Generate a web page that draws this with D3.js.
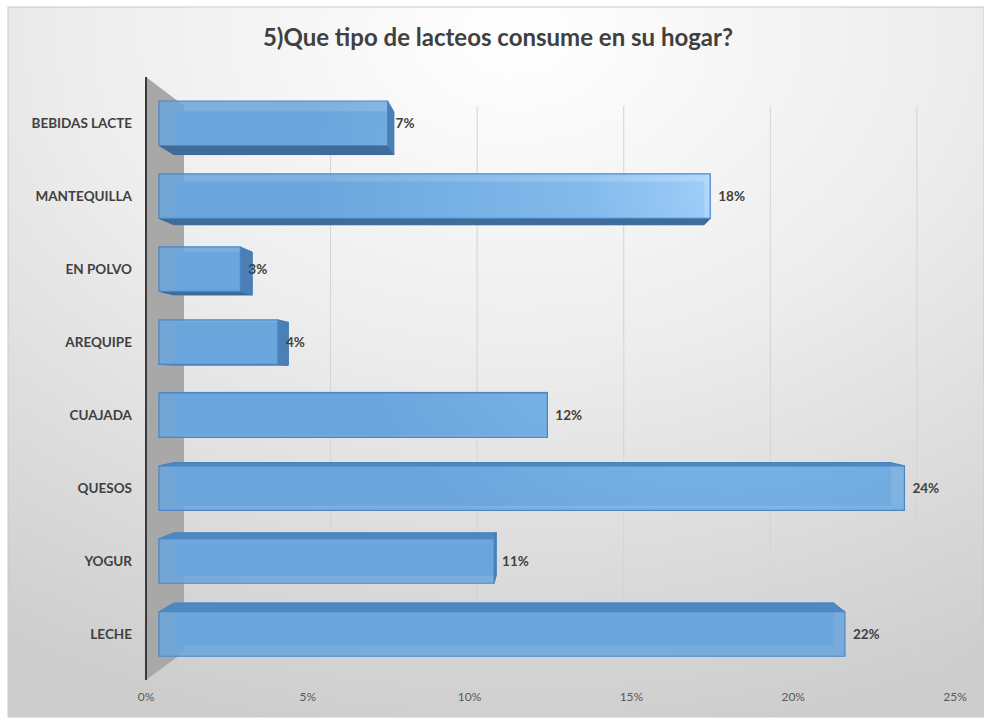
<!DOCTYPE html>
<html>
<head>
<meta charset="utf-8">
<script src="https://cdn.jsdelivr.net/npm/d3@7"></script>
<style>
  html, body { margin: 0; padding: 0; background: #ffffff; }
  svg { display: block; }
</style>
</head>
<body>
<svg id="chart" width="984" height="719"></svg>
<script>
// Survey answers: share of households consuming each dairy product
const categories = ["LECHE", "YOGUR", "QUESOS", "CUAJADA", "AREQUIPE", "EN POLVO", "MANTEQUILLA", "BEBIDAS LACTE"];
const shares = [0.219, 0.107, 0.238, 0.124, 0.038, 0.026, 0.176, 0.073];
const tickValues = [0, 0.05, 0.10, 0.15, 0.20, 0.25];
const chartTitle = "5)Que tipo de lacteos consume en su hogar?";

const W = 984, H = 719;
const svg = d3.select("#chart");
const defs = svg.append("defs");

// ---- background panel ----
const bg = defs.append("radialGradient").attr("id", "bgGrad")
  .attr("cx", "52%").attr("cy", "4%").attr("r", "100%").attr("fx", "52%").attr("fy", "4%");
bg.append("stop").attr("offset", "0").attr("stop-color", "#ffffff");
bg.append("stop").attr("offset", "0.45").attr("stop-color", "#ededed");
bg.append("stop").attr("offset", "1").attr("stop-color", "#cdcdcd");

svg.append("rect").attr("x", 8).attr("y", 7).attr("width", W - 8).attr("height", H - 9)
  .attr("fill", "url(#bgGrad)").attr("stroke", "#c9c9c9").attr("stroke-width", 1);

// ---- scales (front plane) ----
const x = d3.scaleLinear().domain([0, 0.25]).range([146, 955]);
const y = d3.scaleBand().domain(categories.slice().reverse()).range([77, 680])
  .paddingInner(0.39).paddingOuter(0.195);

// ---- simple one-point perspective ----
const vp = { x: 550, y: 382 };
const depth = { front: 1, back: 0.906, barFront: 0.968, barBack: 0.931 };
const proj = (px, py, s) => [vp.x + (px - vp.x) * s, vp.y + (py - vp.y) * s];
const poly = pts => "M" + pts.map(p => p.join(",")).join("L") + "Z";

const plotTop = y.range()[0], plotBottom = y.range()[1];

// ---- side wall ----
svg.append("path")
  .attr("d", poly([
    proj(x(0), plotTop, depth.front), proj(x(0), plotTop, depth.back),
    proj(x(0), plotBottom, depth.back), proj(x(0), plotBottom, depth.front)
  ]))
  .attr("fill", "#a8a8a8");

// ---- gridlines on the back wall and floor ----
const grid = svg.append("g").attr("fill", "none").attr("stroke", "#d4d4d4").attr("stroke-width", 1);
tickValues.filter(t => t > 0).forEach(t => {
  const a = proj(x(t), plotTop, depth.back);
  const b = proj(x(t), plotBottom, depth.back);
  const c = proj(x(t), plotBottom, depth.front);
  grid.append("path").attr("d", "M" + a + "L" + b + "L" + c);
});

// wall edge line
svg.append("line")
  .attr("x1", x(0)).attr("x2", x(0)).attr("y1", plotTop).attr("y2", plotBottom)
  .attr("stroke", "#3a3a3a").attr("stroke-width", 2);

// ---- bars ----
const frontGrad = defs.append("radialGradient").attr("id", "frontGrad")
  .attr("gradientUnits", "userSpaceOnUse").attr("cx", 730).attr("cy", 185).attr("r", 420);
frontGrad.append("stop").attr("offset", "0").attr("stop-color", "#acd7ff");
frontGrad.append("stop").attr("offset", "0.35").attr("stop-color", "#86bdee");
frontGrad.append("stop").attr("offset", "0.75").attr("stop-color", "#74aee2");
frontGrad.append("stop").attr("offset", "1").attr("stop-color", "#6aa5dc");

const bars = svg.append("g");
categories.forEach((cat, i) => {
  const v = shares[i];
  const x0 = x(0), x1 = x(v);
  const y0 = y(cat), y1 = y0 + y.bandwidth();
  const F = depth.barFront, B = depth.barBack;
  const g = bars.append("g");

  // back face
  g.append("path")
    .attr("d", poly([proj(x0, y0, B), proj(x1, y0, B), proj(x1, y1, B), proj(x0, y1, B)]))
    .attr("fill", "#6ea8de").attr("stroke", "#8dbbe8").attr("stroke-width", 1);

  // top face (below the horizon) or bottom face (above it)
  if (y0 > vp.y) {
    g.append("path")
      .attr("d", poly([proj(x0, y0, F), proj(x1, y0, F), proj(x1, y0, B), proj(x0, y0, B)]))
      .attr("fill", "#4f87c1").attr("stroke", "#4a81bb").attr("stroke-width", 1);
  }
  if (y1 < vp.y) {
    g.append("path")
      .attr("d", poly([proj(x0, y1, F), proj(x1, y1, F), proj(x1, y1, B), proj(x0, y1, B)]))
      .attr("fill", "#3f6c99").attr("stroke", "#3d6995").attr("stroke-width", 1);
  }
  // end face when it faces the viewer
  if (x1 < vp.x) {
    g.append("path")
      .attr("d", poly([proj(x1, y0, F), proj(x1, y1, F), proj(x1, y1, B), proj(x1, y0, B)]))
      .attr("fill", "#4b80b7").attr("stroke", "#477cb3").attr("stroke-width", 1);
  }
  // front face
  g.append("path")
    .attr("d", poly([proj(x0, y0, F), proj(x1, y0, F), proj(x1, y1, F), proj(x0, y1, F)]))
    .attr("fill", "url(#frontGrad)").attr("fill-opacity", 0.85)
    .attr("stroke", "#4a86c6").attr("stroke-width", 1.2);

  // value label
  const pr = proj(x1, (y0 + y1) / 2, F);
  svg.append("text")
    .attr("x", pr[0] + 8).attr("y", pr[1]).attr("dy", "0.35em")
    .attr("font-family", "Lato, 'Open Sans', sans-serif").attr("font-weight", 700)
    .attr("font-size", 13.5).attr("fill", "#404040")
    .text(d3.format(".0%")(v));
});

// ---- category labels ----
svg.append("g").selectAll("text").data(categories).join("text")
  .attr("x", 132)
  .attr("y", d => proj(x(0), y(d) + y.bandwidth() / 2, depth.barFront)[1])
  .attr("dy", "0.35em").attr("text-anchor", "end")
  .attr("font-family", "Lato, 'Open Sans', sans-serif").attr("font-weight", 700)
  .attr("font-size", 13.5).attr("fill", "#404040")
  .text(d => d);

// ---- value axis labels ----
svg.append("g").selectAll("text").data(tickValues).join("text")
  .attr("x", d => x(d)).attr("y", 697).attr("dy", "0.35em").attr("text-anchor", "middle")
  .attr("font-family", "Lato, 'Open Sans', sans-serif").attr("font-size", 12)
  .attr("fill", "#595959")
  .text(d => d3.format(".0%")(d));

// ---- title ----
svg.append("text")
  .attr("x", 498).attr("y", 38).attr("dy", "0.35em").attr("text-anchor", "middle")
  .attr("font-family", "Lato, 'Open Sans', sans-serif").attr("font-weight", 700)
  .attr("font-size", 24).attr("fill", "#404040")
  .text(chartTitle);
</script>
</body>
</html>
